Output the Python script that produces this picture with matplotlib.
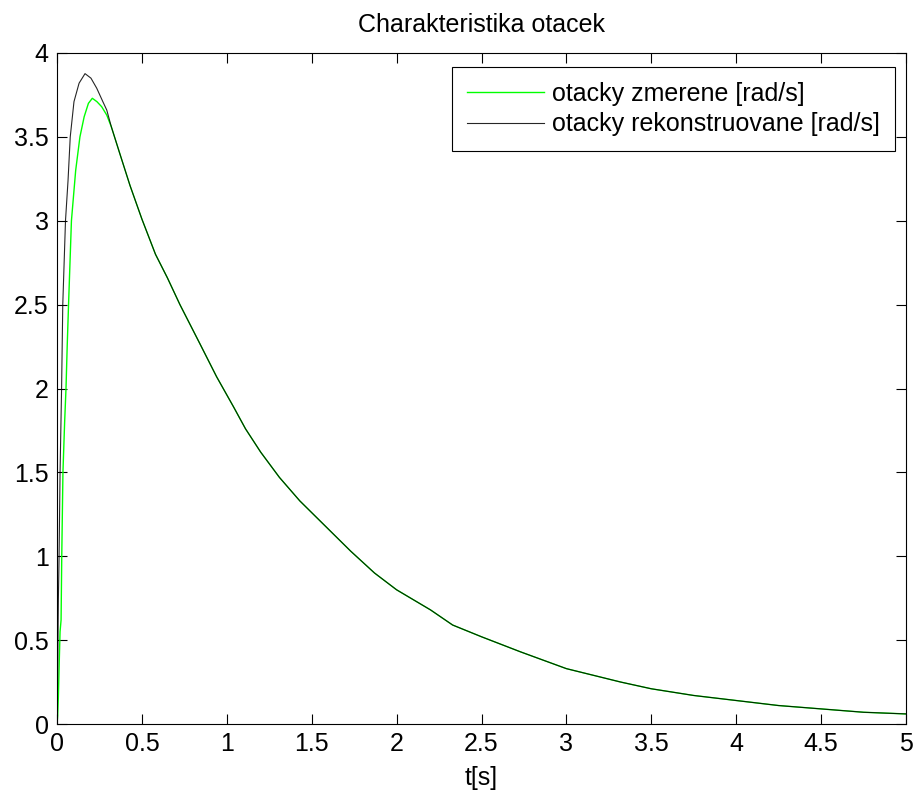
import matplotlib
matplotlib.use("Agg")
import matplotlib.pyplot as plt

plt.rcParams['font.family'] = ['Liberation Sans', 'DejaVu Sans']

# otacky zmerene (green)
t_zmerene = [0, 0.004, 0.008, 0.014, 0.018, 0.024, 0.028, 0.035, 0.045, 0.053,
             0.06, 0.068, 0.085, 0.11, 0.135, 0.16, 0.185, 0.208, 0.235,
             0.263, 0.293, 0.32]
w_zmerene = [0, 0.05, 0.16, 0.4, 0.55, 0.62, 1.0, 1.5, 1.8, 2.0,
             2.25, 2.5, 3.0, 3.3, 3.5, 3.62, 3.7, 3.73, 3.71,
             3.68, 3.63, 3.56]

# otacky rekonstruovane (black)
t_rekon = [0, 0.004, 0.008, 0.012, 0.018, 0.027, 0.034, 0.05, 0.065, 0.078,
           0.1, 0.13, 0.165, 0.2, 0.234, 0.27, 0.293, 0.32]
w_rekon = [0, 0.3, 0.74, 0.98, 1.5, 2.0, 2.5, 3.0, 3.24, 3.5,
           3.71, 3.82, 3.877, 3.85, 3.79, 3.71, 3.66, 3.56]

# spolecny dobeh obou prubehu
t_dobeh = [0.37, 0.43, 0.5, 0.58, 0.65, 0.724, 0.84, 0.94, 1.04, 1.11,
           1.2, 1.31, 1.43, 1.52, 1.63, 1.73, 1.87, 2.0, 2.2, 2.33,
           2.5, 2.73, 3.0, 3.2, 3.32, 3.5, 3.75, 4.0, 4.25, 4.5,
           4.75, 5.0]
w_dobeh = [3.40, 3.21, 3.01, 2.80, 2.66, 2.50, 2.27, 2.07, 1.89, 1.76,
           1.62, 1.47, 1.33, 1.24, 1.13, 1.03, 0.90, 0.80, 0.68, 0.59,
           0.52, 0.43, 0.33, 0.28, 0.25, 0.21, 0.17, 0.14, 0.11, 0.09,
           0.07, 0.06]

fs = 18

fig = plt.figure(figsize=(9.16, 7.92), dpi=100)
ax = fig.add_axes([57 / 916, 68 / 792, 849 / 916, 671 / 792])

ax.plot(t_zmerene + t_dobeh, w_zmerene + w_dobeh, color='#00ff00', lw=1.0,
        label='otacky zmerene [rad/s]')
ax.plot(t_rekon + t_dobeh, w_rekon + w_dobeh, color='black', lw=0.8, alpha=0.85,
        label='otacky rekonstruovane [rad/s]')

ax.set_xlim(0, 5)
ax.set_ylim(0, 4)
ax.set_xticks([0, 0.5, 1, 1.5, 2, 2.5, 3, 3.5, 4, 4.5, 5])
ax.set_xticklabels(['0', '0.5', '1', '1.5', '2', '2.5', '3', '3.5', '4', '4.5', '5'])
ax.set_yticks([0, 0.5, 1, 1.5, 2, 2.5, 3, 3.5, 4])
ax.set_yticklabels(['0', '0.5', '1', '1.5', '2', '2.5', '3', '3.5', '4'])
ax.tick_params(direction='in', length=7, width=0.8, labelsize=fs, pad=6,
               top=True, right=True)
for s in ax.spines.values():
    s.set_linewidth(0.8)

ax.set_title('Charakteristika otacek', fontsize=fs, pad=15)
ax.set_xlabel('t[s]', fontsize=fs, labelpad=7)

leg = ax.legend(loc='upper right', bbox_to_anchor=(0.987, 0.979), borderaxespad=0,
                fontsize=fs, fancybox=False, framealpha=1, edgecolor='black',
                handlelength=3.1, handletextpad=0.32, labelspacing=0.25,
                borderpad=0.6)
leg.get_frame().set_linewidth(0.8)

plt.savefig('out.png', dpi=100)
